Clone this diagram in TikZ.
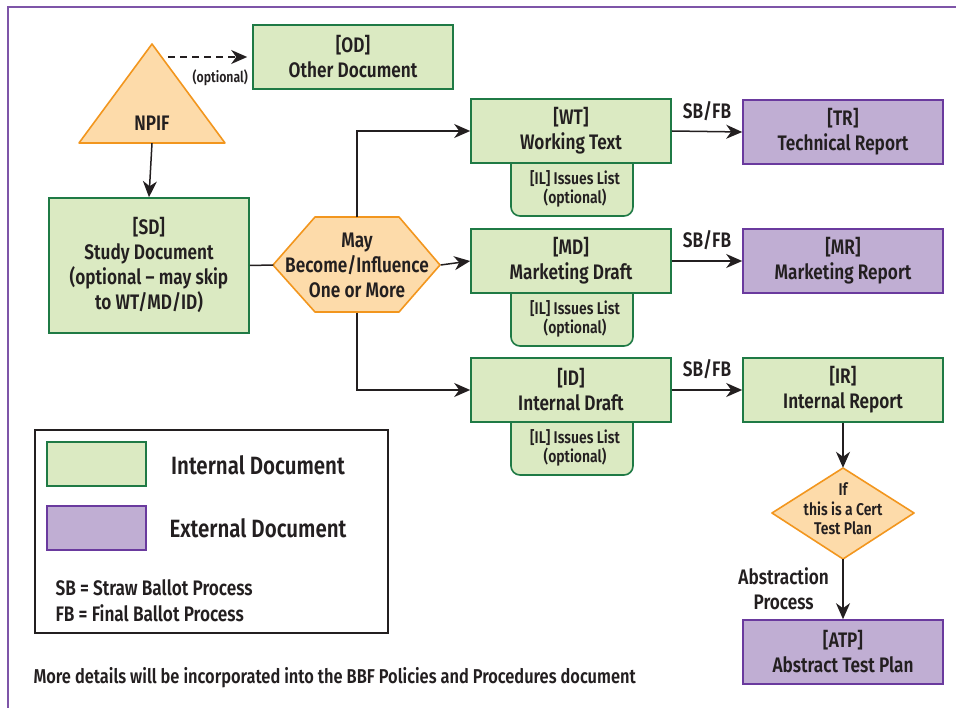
\documentclass[tikz,border=0pt]{standalone}
\usepackage{fontspec}
\IfFontExistsTF{Fira Sans SemiBold}
  {\setmainfont[FakeStretch=0.82]{Fira Sans SemiBold}}
  {\setmainfont[FakeStretch=0.82, FakeBold=2.6]{Fira Sans}}
\usepackage{tikz}
\usetikzlibrary{positioning, arrows.meta}

\definecolor{intfill}{HTML}{DBEAC2}
\definecolor{intline}{HTML}{1F7A45}
\definecolor{extfill}{HTML}{C0AED3}
\definecolor{extline}{HTML}{6A3A9E}
\definecolor{npfill}{HTML}{FDDBAA}
\definecolor{npline}{HTML}{F2961E}
\definecolor{frameline}{HTML}{7E55A8}
\definecolor{ink}{HTML}{231F20}

\begin{document}
\begin{tikzpicture}[x=1pt, y=-1pt, font=\fontsize{21}{25}\selectfont, text=ink,
    intdoc/.style={draw=intline, fill=intfill, line width=1.6pt, minimum width=200, minimum height=64, align=center},
    extdoc/.style={draw=extline, fill=extfill, line width=1.6pt, minimum width=200, minimum height=64, align=center},
    npshape/.style={draw=npline, fill=npfill, line width=1.6pt, line join=round},
    small/.style={font=\fontsize{17}{19.5}\selectfont, align=center},
    arr/.style={-{Stealth[length=16pt, width=14pt, inset=5pt]}, line width=1.5pt, draw=ink}]
\useasboundingbox (0,0) rectangle (956,708);

% frame
\draw[frameline, line width=1.8pt] (8,708) -- (8,7) -- (956,7);

% issues list tabs
\foreach \y/\n in {163/wt,293/md,422/id} {
  \draw[draw=intline, fill=intfill, line width=1.6pt, rounded corners=9] (511,\y) -- (511,\y+53) -- (633,\y+53) -- (633,\y);
  \node[small] (IL\n) at (575,\y+26) {[IL] Issues List\\(optional)};
}

% NPIF, hexagon and diamond
\draw[npshape] (152,44) -- (225,143) -- (79,143) -- cycle;
\node[minimum height=40] (NPIF) at (152,123) {NPIF};
\draw[npshape] (273,265) -- (315,217) -- (399,217) -- (440,265) -- (399,312) -- (315,312) -- cycle;
\node[minimum width=167, minimum height=95, align=center] (hex) at (357,265) {May\\Become/Influence\\One or More};
\draw[npshape] (843,468) -- (914,513) -- (843,559) -- (772,513) -- cycle;
\node[minimum height=91] (cert) at (843,513.5) {};
\node[small] (certtext) at (843,509) {If\\this is a Cert\\Test Plan};

% documents
\node[intdoc] (OD) at (353,57) {[OD]\\Other Document};
\node[intdoc, minimum height=135] (SD) at (149,265.5) {[SD]\\Study Document\\(optional -- may skip\\to WT/MD/ID)};
\node[intdoc] (WT) at (571,131) {[WT]\\Working Text};
\node[intdoc] (MD) at (571,261) {[MD]\\Marketing Draft};
\node[intdoc] (ID) at (571,390) {[ID]\\Internal Draft};
\node[extdoc] (TR) at (843,132) {[TR]\\Technical Report};
\node[extdoc] (MR) at (843,261) {[MR]\\Marketing Report};
\node[intdoc] (IR) at (843,390) {[IR]\\Internal Report};
\node[extdoc] (ATP) at (843,652) {[ATP]\\Abstract Test Plan};

% connectors
\coordinate (optstart) at (168,57);
\draw[arr, dashed, dash pattern=on 7pt off 5pt, shorten >=5pt] (optstart) -- (OD.west) node[pos=0.62, below=9pt, font=\fontsize{15}{17}\selectfont] {(optional)};
\draw[arr] (NPIF.south) -- (SD.north);
\draw[line width=1.5pt, draw=ink] (SD.east) -- (hex.west);
\draw[arr] (hex.north) |- (WT.west);
\draw[arr] (hex.east) -- (MD.west);
\draw[arr] (hex.south) |- (ID.west);
\draw[arr] (WT.east) -- (TR.west) node[midway, above=7pt] {SB/FB};
\draw[arr] (MD.east) -- (MR.west) node[midway, above=7pt] {SB/FB};
\draw[arr] (ID.east) -- (IR.west) node[midway, above=7pt] {SB/FB};
\draw[arr] (IR.south) -- (cert.north);
\draw[arr] (cert.south) -- (ATP.north) node[midway, left=10pt, align=center] {Abstraction\\Process};

% legend
\node[draw=ink, line width=1.6pt, minimum width=353, minimum height=203] (legend) at (211.5,531.5) {};
\node[intdoc, minimum width=99, minimum height=44] (keyint) at (96.5,464) {};
\node[extdoc, minimum width=99, minimum height=44] (keyext) at (96.5,528) {};
\node[font=\fontsize{25}{30}\selectfont] (keyinttext) at (258,465) {Internal Document};
\node[font=\fontsize{25}{30}\selectfont] (keyexttext) at (258,528) {External Document};
\node[anchor=west, align=left, font=\fontsize{21}{26}\selectfont] (ballots) at (52,601) {SB = Straw Ballot Process\\FB = Final Ballot Process};

% footer
\node[anchor=west, font=\fontsize{20}{24}\selectfont] (note) at (30,678) {More details will be incorporated into the BBF Policies and Procedures document};
\end{tikzpicture}
\end{document}
